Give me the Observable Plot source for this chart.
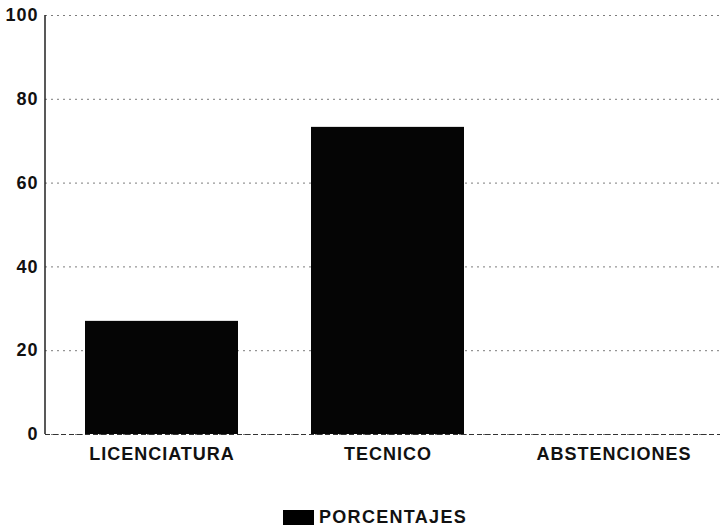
<!DOCTYPE html>
<html>
<head>
<meta charset="utf-8">
<script src="https://cdn.jsdelivr.net/npm/d3@7"></script>
<script src="https://cdn.jsdelivr.net/npm/@observablehq/plot@0.6"></script>
<style>
  body { margin: 0; background: #fff; font-family: "Liberation Sans", Arial, sans-serif; }
  #chart { width: 720px; }
  #legend { display: flex; align-items: center; margin-top: 32px; margin-left: 283px;
            font-weight: bold; font-size: 18px; letter-spacing: 1.3px; color: #111; }
  #legend .sw { width: 31px; height: 15px; background: #000; margin-right: 5px; }
</style>
</head>
<body>
<div id="chart"></div>
<div id="legend"><span class="sw"></span><span id="lt"></span></div>
<script>
const categories = ["LICENCIATURA", "TECNICO", "ABSTENCIONES"];
const values = [27, 73.3, 0];
const yTicks = [0, 20, 40, 60, 80, 100];
const seriesName = "PORCENTAJES";

document.getElementById("lt").textContent = seriesName;
const data = categories.map((c, i) => ({category: c, value: values[i]}));

const yAxisLine = (index, scales, values, dim) => {
  const l = document.createElementNS("http://www.w3.org/2000/svg", "line");
  l.setAttribute("x1", dim.marginLeft);
  l.setAttribute("x2", dim.marginLeft);
  l.setAttribute("y1", scales.y(100));
  l.setAttribute("y2", scales.y(0));
  l.setAttribute("stroke", "#222");
  l.setAttribute("stroke-width", 1.5);
  return l;
};

const chart = Plot.plot({
  width: 720,
  height: 475,
  marginTop: 15,
  marginBottom: 41,
  marginLeft: 45,
  marginRight: 0,
  style: {fontFamily: "'Liberation Sans', Arial, sans-serif", fontWeight: "bold", fontSize: "17px", color: "#111", background: "#fff"},
  x: {domain: categories, range: [46.6, 728.5], paddingInner: 0.323, paddingOuter: 0.17, label: null},
  y: {domain: [0, 100], label: null},
  marks: [
    Plot.gridY(yTicks, {stroke: "#444", strokeOpacity: 0.7, strokeDasharray: "2,4"}),
    Plot.barY(data, {x: "category", y: "value", fill: "#050505"}),
    Plot.ruleY([0], {stroke: "#333", strokeDasharray: "5,3"}),
    yAxisLine,
    Plot.axisY({ticks: yTicks, tickSize: 0, tickPadding: 7, label: null, fontSize: 18}),
    Plot.axisX({tickSize: 0, tickPadding: 13, label: null, fontSize: 18})
  ]
});
chart.querySelectorAll("text").forEach(t => t.setAttribute("letter-spacing", "1"));
document.getElementById("chart").appendChild(chart);
</script>
</body>
</html>
